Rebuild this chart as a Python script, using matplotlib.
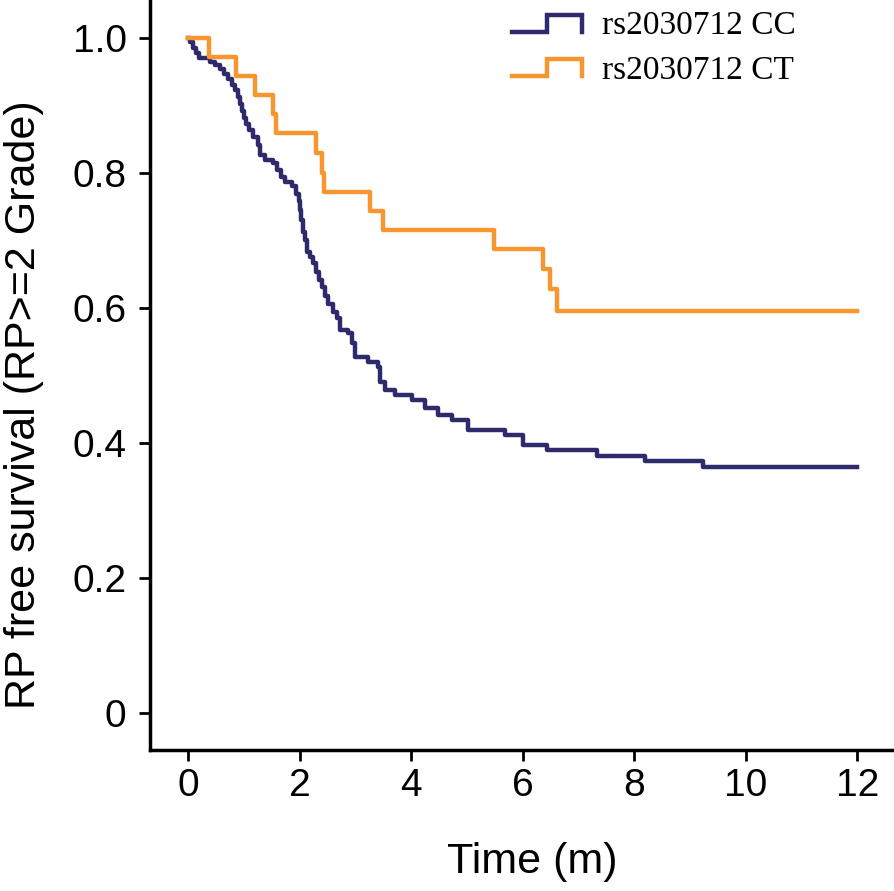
import numpy as np
import matplotlib
matplotlib.use("Agg")
import matplotlib.pyplot as plt
from matplotlib import font_manager
from matplotlib.legend_handler import HandlerBase
from matplotlib.lines import Line2D

# step events (time in months, survival after the drop)
cc_time = [0, 0.04, 0.09, 0.14, 0.20, 0.39, 0.48, 0.57, 0.65, 0.72, 0.79, 0.84,
           0.90, 0.93, 0.97, 1.00, 1.04, 1.09, 1.17, 1.26, 1.29, 1.38, 1.52,
           1.60, 1.67, 1.74, 1.87, 1.94, 1.99, 2.01, 2.03, 2.06, 2.10, 2.13,
           2.19, 2.24, 2.30, 2.35, 2.40, 2.46, 2.51, 2.60, 2.67, 2.73, 2.87,
           2.94, 3.00, 3.23, 3.41, 3.44, 3.53, 3.71, 4.02, 4.25, 4.48, 4.74,
           5.02, 5.69, 6.01, 6.44, 7.34, 8.20, 9.24, 12.0]
cc_surv = [1.0, 0.994, 0.985, 0.978, 0.970, 0.964, 0.960, 0.954, 0.947, 0.939,
           0.930, 0.923, 0.913, 0.902, 0.892, 0.881, 0.873, 0.864, 0.853, 0.841,
           0.827, 0.819, 0.815, 0.804, 0.794, 0.787, 0.781, 0.769, 0.759, 0.745,
           0.730, 0.713, 0.701, 0.683, 0.676, 0.667, 0.653, 0.641, 0.631, 0.618,
           0.606, 0.594, 0.585, 0.567, 0.563, 0.548, 0.527, 0.520, 0.513, 0.490,
           0.479, 0.471, 0.464, 0.452, 0.441, 0.434, 0.419, 0.412, 0.397, 0.390,
           0.381, 0.373, 0.364, 0.364]

ct_time = [0, 0.38, 0.86, 1.20, 1.53, 1.57, 2.30, 2.40, 2.43, 3.27, 3.49,
           5.49, 6.36, 6.49, 6.61, 12.0]
ct_surv = [1.0, 0.972, 0.944, 0.916, 0.887, 0.859, 0.830, 0.800, 0.772, 0.744,
           0.716, 0.687, 0.657, 0.628, 0.596, 0.596]

labels = ["rs2030712 CC", "rs2030712 CT"]
colors = ["#2e2a6c", "#f7962f"]
xticks = [0, 2, 4, 6, 8, 10, 12]
yticks = [0, 0.2, 0.4, 0.6, 0.8, 1.0]
yticklabels = ["0", "0.2", "0.4", "0.6", "0.8", "1.0"]


def pick_font(names):
    for n in names:
        try:
            font_manager.findfont(n, fallback_to_default=False)
            return n
        except Exception:
            pass
    return "DejaVu Sans"


sans = pick_font(["Liberation Sans Narrow", "Liberation Sans"])
serif = pick_font(["Liberation Serif", "DejaVu Serif"])
plt.rcParams["font.family"] = [sans, "DejaVu Sans"]


class StepHandler(HandlerBase):
    # legend key drawn as a small step: low, up, across, down
    def create_artists(self, legend, orig_handle, xdescent, ydescent,
                       width, height, fontsize, trans):
        x0 = -xdescent
        lo = -ydescent + 0.12 * height
        hi = -ydescent + 0.85 * height
        xs = [x0, x0 + width / 2, x0 + width / 2, x0 + width, x0 + width]
        ys = [lo, lo, hi, hi, lo]
        ln = Line2D(xs, ys, color=orig_handle.get_color(),
                    lw=orig_handle.get_linewidth(), solid_joinstyle="miter")
        ln.set_transform(trans)
        return [ln]


fig = plt.figure(figsize=(8.94, 8.91), dpi=100)
ax = fig.add_axes([0.168, 0.158, 0.832, 0.842])

h1, = ax.step(cc_time, cc_surv, where="post", color=colors[0], lw=3.2)
h2, = ax.step(ct_time, ct_surv, where="post", color=colors[1], lw=3.2)

ax.set_xlim(-0.68, 12.66)
ax.set_ylim(-0.055, 1.056)
ax.set_xticks(xticks)
ax.set_yticks(yticks)
ax.set_yticklabels(yticklabels)

for s in ["top", "right"]:
    ax.spines[s].set_visible(False)
for s in ["left", "bottom"]:
    ax.spines[s].set_linewidth(2.5)

ax.tick_params(axis="both", direction="out", length=8, width=2,
               labelsize=28)
ax.tick_params(axis="y", pad=9)
ax.tick_params(axis="x", pad=5)

ax.set_xlabel("Time (m)", fontsize=31)
ax.set_ylabel("RP free survival (RP>=2 Grade)", fontsize=31)
ax.xaxis.set_label_coords(0.513, -0.122)
ax.yaxis.set_label_coords(-0.143, 0.46)

leg = ax.legend([h1, h2], labels, handler_map={Line2D: StepHandler()},
                loc="upper left", bbox_to_anchor=(0.482, 0.99),
                frameon=False, borderpad=0.1, borderaxespad=0,
                handlelength=2.1, handletextpad=0.6, labelspacing=0.42,
                prop={"family": serif, "size": 24})

fig.savefig("out.png", dpi=100)
